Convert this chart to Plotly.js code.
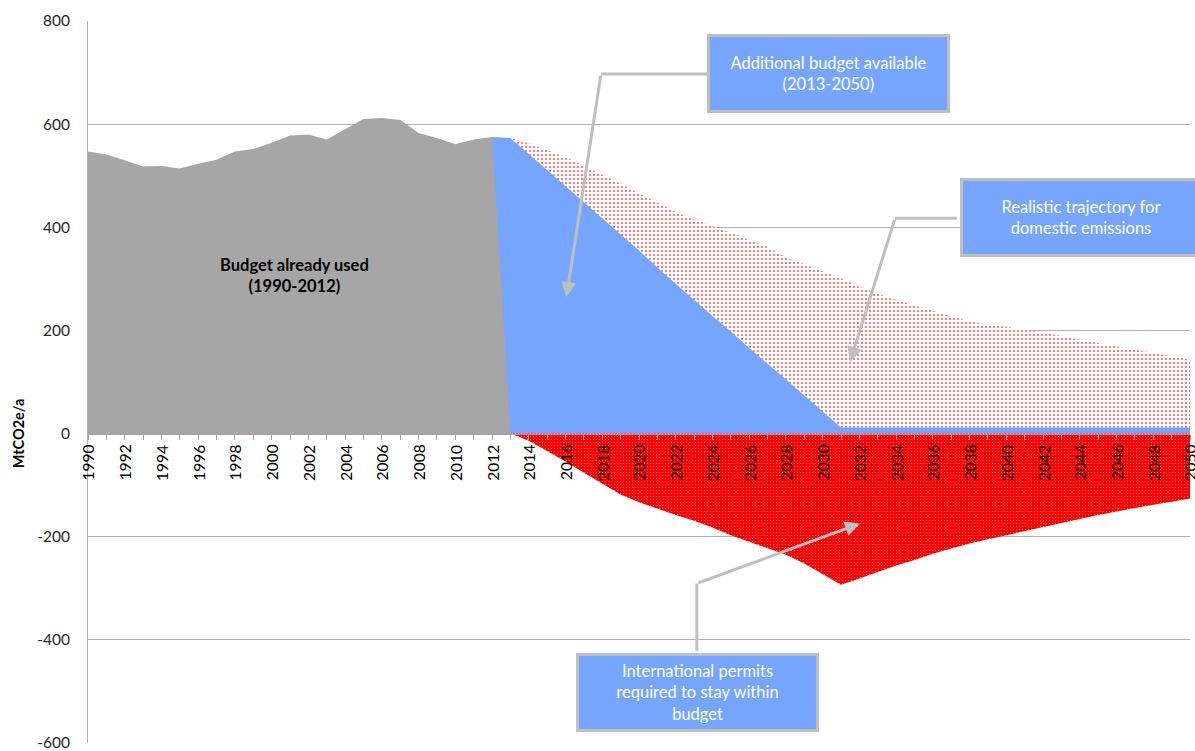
<!DOCTYPE html>
<html>
<head>
<meta charset="utf-8">
<script src="https://cdn.plot.ly/plotly-3.0.1.min.js"></script>
<style>
  html, body { margin: 0; padding: 0; background: #ffffff; }
  #chart { width: 1195px; height: 751px; }
</style>
</head>
<body>
<div id="chart"></div>
<script>
// Emissions already used, 1990-2012 (drops to zero in 2013)
const historyYears = [1990, 1991, 1992, 1993, 1994, 1995, 1996, 1997, 1998, 1999, 2000, 2001,
  2002, 2003, 2004, 2005, 2006, 2007, 2008, 2009, 2010, 2011, 2012, 2013];
const historyValues = [547, 541, 530, 518, 519, 514, 523, 531, 547, 552, 564, 578,
  580, 570, 590, 610, 612, 608, 583, 573, 561, 570, 575, 0];

// Budget pathway 2012-2050
const budgetYears = [2012, 2013, 2014, 2015, 2016, 2017, 2018, 2019, 2020, 2021, 2022, 2023,
  2024, 2025, 2026, 2027, 2028, 2029, 2030, 2031, 2032, 2033, 2034, 2035, 2036, 2037, 2038,
  2039, 2040, 2041, 2042, 2043, 2044, 2045, 2046, 2047, 2048, 2049, 2050];
const budgetValues = [575, 573, 542, 511, 480, 449, 418, 387, 355, 322, 290, 259,
  228, 198, 166, 136, 105, 74, 43, 12, 12, 12, 12, 12, 12, 12, 12,
  12, 12, 12, 12, 12, 12, 12, 12, 12, 12, 12, 12];

// Realistic domestic trajectory 2013-2050
const futureYears = [2013, 2014, 2015, 2016, 2017, 2018, 2019, 2020, 2021, 2022, 2023, 2024,
  2025, 2026, 2027, 2028, 2029, 2030, 2031, 2032, 2033, 2034, 2035, 2036, 2037, 2038, 2039,
  2040, 2041, 2042, 2043, 2044, 2045, 2046, 2047, 2048, 2049, 2050];
const realisticValues = [573, 563, 550, 536, 520, 503, 485, 466, 448, 430, 415, 403,
  390, 376, 362, 342, 328, 315, 301, 285, 271, 260, 249, 238, 227, 218, 211,
  207, 202, 196, 189, 182, 176, 169, 163, 156, 150, 143];

// International permits needed (negative) 2013-2050
const permitValues = [0, -14, -34, -54, -76, -97, -118, -133, -146, -158, -169, -182,
  -197, -210, -222, -235, -252, -272, -293, -281, -268, -256, -245, -233, -223, -213, -205,
  -197, -189, -181, -173, -165, -158, -151, -144, -138, -132, -126];

// Year labels shown along the zero line
const yearLabels = ['1990', '1992', '1994', '1996', '1998', '2000', '2002', '2004', '2006',
  '2008', '2010', '2012', '2014', '2016', '2018', '2020', '2022', '2024', '2026', '2028',
  '2030', '2032', '2034', '2036', '2038', '2040', '2042', '2044', '2046', '2048', '2050'];

// Value axis ticks (plain hyphen for negatives)
const yTickValues = [-600, -400, -200, 0, 200, 400, 600, 800];
const yTickLabels = ['-600', '-400', '-200', '0', '200', '400', '600', '800'];

const FONT = "Lato, 'Open Sans', 'Noto Sans', sans-serif";
const GREY = '#a6a6a6';
const BLUE = '#76a5fd';
const LINK = '#bfbfbf';

const traces = [
  {
    x: futureYears, y: realisticValues, type: 'scatter', mode: 'lines',
    fill: 'tozeroy', line: { width: 0, color: 'rgba(0,0,0,0)' },
    fillcolor: '#ffffff',
    fillpattern: { shape: '.', fgcolor: '#ff4a4a', bgcolor: '#ffffff', size: 4, solidity: 0.18 },
    hoverinfo: 'skip', showlegend: false
  },
  {
    x: budgetYears, y: budgetValues, type: 'scatter', mode: 'lines',
    fill: 'tozeroy', line: { width: 0, color: BLUE }, fillcolor: BLUE,
    hoverinfo: 'skip', showlegend: false
  },
  {
    x: historyYears, y: historyValues, type: 'scatter', mode: 'lines',
    fill: 'tozeroy', line: { width: 0, color: GREY }, fillcolor: GREY,
    hoverinfo: 'skip', showlegend: false
  },
  {
    x: futureYears, y: permitValues, type: 'scatter', mode: 'lines',
    fill: 'tozeroy', line: { width: 0, color: '#ff0000' },
    fillcolor: '#ff0000',
    fillpattern: { shape: '.', fgcolor: '#ffb0b0', bgcolor: '#ff0000', size: 3, solidity: 0.1 },
    hoverinfo: 'skip', showlegend: false
  }
];

// Callout boxes
function callout(text, x, y, w, h) {
  return {
    text: text, x: x, y: y, xref: 'x', yref: 'y', showarrow: false,
    xanchor: 'center', yanchor: 'middle', align: 'center',
    width: w, height: h, bgcolor: BLUE, bordercolor: LINK, borderwidth: 3, borderpad: 0,
    font: { family: FONT, size: 16.5, color: '#ffffff' }
  };
}
// Arrow from elbow point to tip
function pointer(fromX, fromY, toX, toY) {
  return {
    text: '', x: toX, y: toY, xref: 'x', yref: 'y',
    ax: fromX, ay: fromY, axref: 'x', ayref: 'y',
    showarrow: true, arrowhead: 2, arrowsize: 1, arrowwidth: 3, arrowcolor: LINK,
    standoff: 0, startstandoff: 0
  };
}
function segment(x0, y0, x1, y1) {
  return { type: 'line', xref: 'x', yref: 'y', x0: x0, y0: y0, x1: x1, y1: y1,
    line: { color: LINK, width: 3 }, layer: 'above' };
}
// Rotated year label hanging below the zero line, kept above the filled areas
function yearLabel(label) {
  return {
    text: label, x: Number(label), y: 0, xref: 'x', yref: 'y',
    xanchor: 'center', yanchor: 'top', yshift: -9, textangle: -90, showarrow: false,
    font: { family: FONT, size: 15.5, color: '#000000' }
  };
}

const layout = {
  width: 1195, height: 751,
  margin: { l: 88, r: 5, t: 21, b: 8, pad: 0 },
  paper_bgcolor: '#ffffff', plot_bgcolor: '#ffffff',
  font: { family: FONT, size: 15, color: '#333333' },
  showlegend: false,
  xaxis: {
    range: [1990, 2050], anchor: 'free', position: 600 / 1400,
    tick0: 1990, dtick: 2, showticklabels: false,
    ticks: 'outside', ticklen: 5, tickcolor: '#a0a0a0', tickwidth: 1,
    minor: { dtick: 1, ticks: 'outside', ticklen: 5, tickcolor: '#a0a0a0', tickwidth: 1, showgrid: false },
    showline: true, linecolor: '#a0a0a0', linewidth: 1,
    showgrid: false, zeroline: false, layer: 'above traces',
    fixedrange: true
  },
  yaxis: {
    range: [-600, 800], tickmode: 'array', tickvals: yTickValues, ticktext: yTickLabels,
    showgrid: true, gridcolor: '#b0b0b0', gridwidth: 1,
    zeroline: false, showline: true, linecolor: '#b0b0b0', linewidth: 1,
    ticks: '', ticklabelstandoff: 14, ticklabeloverflow: 'allow',
    tickfont: { family: FONT, size: 15.5, color: '#262626' },
    fixedrange: true
  },
  shapes: [
    segment(2023.70, 697, 2017.93, 697),
    segment(2037.31, 417.3, 2033.94, 417.3),
    segment(2023.15, -421.6, 2023.15, -290.7)
  ],
  annotations: [
    {
      text: 'MtCO2e/a', xref: 'paper', yref: 'paper', x: -0.0635, y: 0.429,
      xanchor: 'center', yanchor: 'middle', textangle: -90, showarrow: false,
      font: { family: FONT, size: 14.5, color: '#000000', weight: 'bold' }
    },
    {
      text: '<b>Budget already used</b><br><b>(1990-2012)</b>', x: 2001.27, y: 307,
      xref: 'x', yref: 'y', showarrow: false, align: 'center',
      font: { family: FONT, size: 16.5, color: '#000000' }
    },
    pointer(2017.93, 697, 2016.05, 265),
    pointer(2033.94, 417.3, 2031.49, 139),
    pointer(2023.15, -290.7, 2032.03, -174.3),
    callout('Additional budget available<br>(2013-2050)', 2030.32, 698, 237, 73),
    callout('Realistic trajectory for<br>domestic emissions', 2044.05, 419, 236, 73),
    callout('International permits<br>required to stay within<br>budget', 2023.19, -502, 237, 73)
  ].concat(yearLabels.map(yearLabel))
};

Plotly.newPlot('chart', traces, layout, { displayModeBar: false, staticPlot: true });
</script>
</body>
</html>
